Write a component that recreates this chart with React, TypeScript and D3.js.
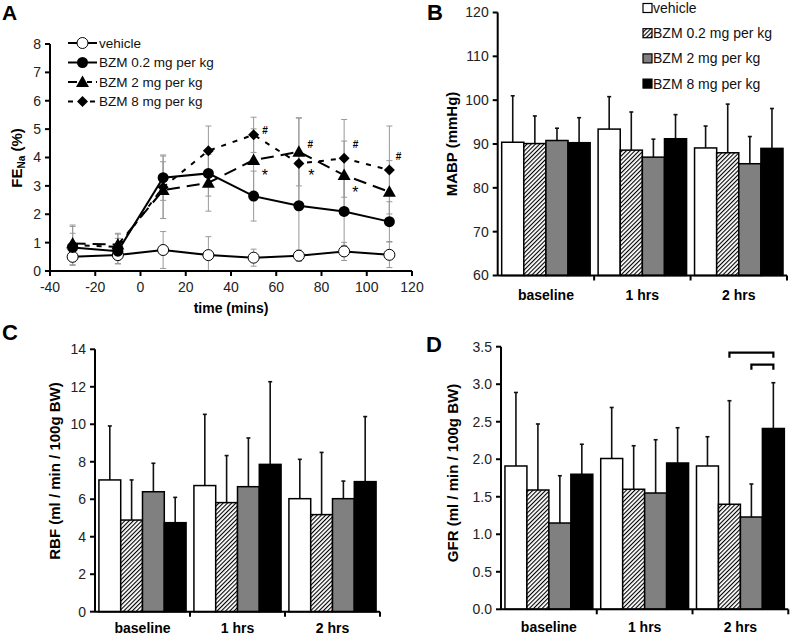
import React from "react";
import * as d3 from "d3";

// ---------- Panel A data ----------
const times = [-30, -10, 10, 30, 50, 70, 90, 110];
const vehicleFe = [0.5, 0.56, 0.74, 0.56, 0.47, 0.54, 0.69, 0.57];
const vehicleFeErr = [0.3, 0.3, 0.65, 0.65, 0.3, 0.2, 0.32, 0.45];
const bzm02Fe = [0.83, 0.7, 3.29, 3.44, 2.64, 2.3, 2.1, 1.74];
const bzm02FeErr = [0.5, 0.45, 0.8, 0.8, 0.88, 1.8, 1.2, 0.7];
const bzm2Fe = [0.97, 0.93, 2.85, 3.11, 3.91, 4.2, 3.38, 2.79];
const bzm2FeErr = [0.6, 0.4, 1.0, 1.0, 1.1, 1.2, 1.2, 1.1];
const bzm8Fe = [0.92, 0.85, 2.95, 4.24, 4.8, 3.79, 3.97, 3.56];
const bzm8FeErr = [0.7, 0.45, 1.1, 0.87, 0.62, 1.6, 1.37, 1.55];
const hashMarks = [
  { t: 55, v: 4.96 },
  { t: 75, v: 4.47 },
  { t: 95, v: 4.47 },
  { t: 114, v: 4.03 },
];
const starMarks = [
  { t: 55, v: 3.5 },
  { t: 75.5, v: 3.5 },
  { t: 95, v: 2.92 },
];
const xTicksA = [-40, -20, 0, 20, 40, 60, 80, 100, 120];
const yTicksA = [0, 1, 2, 3, 4, 5, 6, 7, 8];

// ---------- Bar panels data ----------
const groups = ["vehicle", "BZM 0.2 mg per kg", "BZM 2 mg per kg", "BZM 8 mg per kg"];
const periods = ["baseline", "1 hrs", "2 hrs"];

// values per period: [vehicle, 0.2, 2, 8]
const mabp = [
  [90.4, 90.1, 90.8, 90.3],
  [93.4, 88.6, 87.0, 91.2],
  [89.1, 88.0, 85.5, 89.0],
];
const mabpErrTop = [
  [101.0, 96.4, 93.6, 96.0],
  [100.8, 97.3, 91.1, 96.7],
  [94.1, 99.1, 91.7, 98.1],
];
const rbf = [
  [7.03, 4.89, 6.4, 4.75],
  [6.73, 5.82, 6.67, 7.86],
  [6.03, 5.18, 6.03, 6.94],
];
const rbfErrTop = [
  [9.91, 7.03, 7.92, 6.1],
  [10.53, 8.33, 9.27, 12.27],
  [8.13, 8.5, 6.97, 10.41],
];
const gfr = [
  [1.91, 1.59, 1.15, 1.8],
  [2.01, 1.6, 1.55, 1.95],
  [1.91, 1.4, 1.23, 2.41],
];
const gfrErrTop = [
  [2.89, 2.47, 1.78, 2.2],
  [2.69, 2.18, 2.26, 2.42],
  [2.3, 2.78, 1.67, 3.02],
];
// significance brackets in D: period index, from group, to group, level
const gfrBrackets = [
  { p: 2, a: 1, b: 3, v: 3.42 },
  { p: 2, a: 2, b: 3, v: 3.26 },
];
const mabpTicks = [60, 70, 80, 90, 100, 110, 120];
const rbfTicks = [0, 2, 4, 6, 8, 10, 12, 14];
const gfrTicks = [0, 0.5, 1.0, 1.5, 2.0, 2.5, 3.0, 3.5];

const FONT = "'Liberation Sans', Arial, sans-serif";
const fills = ["#ffffff", "url(#hatch)", "#808080", "#000000"];

function Marker({ kind, x, y }: { kind: string; x: number; y: number }) {
  if (kind === "open") return <circle cx={x} cy={y} r={5.5} fill="#fff" stroke="#000" strokeWidth={1} />;
  if (kind === "circle") return <circle cx={x} cy={y} r={5.5} fill="#000" />;
  if (kind === "tri") {
    const s = 6.5;
    return <path d={`M${x},${y - s} L${x + s},${y + s * 0.75} L${x - s},${y + s * 0.75} Z`} fill="#000" />;
  }
  const s = 5.5;
  return <path d={`M${x},${y - s} L${x + s},${y} L${x},${y + s} L${x - s},${y} Z`} fill="#000" />;
}

function PanelA() {
  const x = d3.scaleLinear().domain([-40, 120]).range([50, 412]);
  const y = d3.scaleLinear().domain([0, 8]).range([271, 44]);
  const series = [
    { name: "vehicle", vals: vehicleFe, err: vehicleFeErr, kind: "open", dash: "none" },
    { name: "BZM 0.2 mg per kg", vals: bzm02Fe, err: bzm02FeErr, kind: "circle", dash: "none" },
    { name: "BZM 2 mg per kg", vals: bzm2Fe, err: bzm2FeErr, kind: "tri", dash: "13,7" },
    { name: "BZM 8 mg per kg", vals: bzm8Fe, err: bzm8FeErr, kind: "dia", dash: "5,7" },
  ];
  const line = d3
    .line<number>()
    .x((_, i) => x(times[i]))
    .y((d) => y(d));
  return (
    <g fontFamily={FONT}>
      <text x={2} y={20} fontSize={21} fontWeight="bold">A</text>
      {series.map((s, si) =>
        s.vals.map((v, i) => {
          const lo = Math.max(0, v - s.err[i]);
          const hi = v + s.err[i];
          const cx = x(times[i]);
          return (
            <g key={`e${si}-${i}`} stroke="#999" strokeWidth={1}>
              <line x1={cx} x2={cx} y1={y(lo)} y2={y(hi)} />
              <line x1={cx - 3} x2={cx + 3} y1={y(hi)} y2={y(hi)} />
              {v - s.err[i] > 0 && <line x1={cx - 3} x2={cx + 3} y1={y(lo)} y2={y(lo)} />}
            </g>
          );
        })
      )}
      {series.map((s, si) => (
        <path key={`l${si}`} d={line(s.vals) || ""} fill="none" stroke="#000" strokeWidth={2} strokeDasharray={s.dash} />
      ))}
      {series.map((s, si) =>
        s.vals.map((v, i) => <Marker key={`m${si}-${i}`} kind={s.kind} x={x(times[i])} y={y(v)} />)
      )}
      {hashMarks.map((h, i) => (
        <text key={`h${i}`} x={x(h.t)} y={y(h.v)} fontSize={10} textAnchor="middle" dy="0.35em" fontWeight="bold">#</text>
      ))}
      {starMarks.map((h, i) => (
        <text key={`s${i}`} x={x(h.t)} y={y(h.v)} fontSize={16} textAnchor="middle" dy="0.6em">*</text>
      ))}
      <line x1={x(-40)} x2={x(-40)} y1={y(8)} y2={y(0)} stroke="#000" strokeWidth={2} />
      <line x1={x(-40)} x2={x(120)} y1={y(0)} y2={y(0)} stroke="#000" strokeWidth={2} />
      {yTicksA.map((t) => (
        <g key={`yt${t}`}>
          <line x1={x(-40) - 5} x2={x(-40)} y1={y(t)} y2={y(t)} stroke="#000" strokeWidth={2} />
          <text x={x(-40) - 9} y={y(t)} dy="0.35em" textAnchor="end" fontSize={14} fill="#222">{t}</text>
        </g>
      ))}
      {xTicksA.map((t) => (
        <g key={`xt${t}`}>
          <line x1={x(t)} x2={x(t)} y1={y(0)} y2={y(0) + 5} stroke="#000" strokeWidth={2} />
          <text x={x(t)} y={y(0) + 21} textAnchor="middle" fontSize={14} fill="#222">{t}</text>
        </g>
      ))}
      <text x={231} y={313} textAnchor="middle" fontSize={14} fontWeight="bold">time (mins)</text>
      <text transform={`translate(22,158) rotate(-90)`} textAnchor="middle" fontSize={15} fontWeight="bold">
        FE<tspan fontSize={10} dy={3}>Na</tspan><tspan dy={-3}> (%)</tspan>
      </text>
      {series.map((s, i) => {
        const ly = 43 + i * 19.5;
        return (
          <g key={`lg${i}`}>
            <line x1={68} x2={97} y1={ly} y2={ly} stroke="#000" strokeWidth={2} strokeDasharray={i === 2 ? "10,4" : i === 3 ? "5,6" : "none"} />
            {(i === 2 || i === 3) && <rect x={77} y={ly - 3} width={10} height={6} fill="#fff" />}
            <Marker kind={s.kind} x={82.5} y={ly} />
            <text x={99} y={ly} dy="0.35em" fontSize={13.5} fill="#111">{s.name}</text>
          </g>
        );
      })}
    </g>
  );
}

type BarProps = {
  label: string;
  labelX: number;
  labelY: number;
  x0: number;
  x1: number;
  yTop: number;
  yBot: number;
  domain: [number, number];
  ticks: number[];
  fmt: (v: number) => string;
  vals: number[][];
  errTop: number[][];
  title: string;
  titleX: number;
  titleY: number;
  catY: number;
  legend?: boolean;
  brackets?: { p: number; a: number; b: number; v: number }[];
};

function BarPanel(p: BarProps) {
  const x = d3.scaleBand<string>().domain(periods).range([p.x0, p.x1]);
  const inner = d3
    .scaleBand<number>()
    .domain([0, 1, 2, 3])
    .range([0, x.bandwidth()])
    .paddingOuter(0.18)
    .paddingInner(0);
  const y = d3.scaleLinear().domain(p.domain).range([p.yBot, p.yTop]);
  const bw = inner.bandwidth();
  return (
    <g fontFamily={FONT}>
      <text x={p.labelX} y={p.labelY} fontSize={22} fontWeight="bold">{p.label}</text>
      {p.vals.map((row, pi) =>
        row.map((v, gi) => {
          const bx = (x(periods[pi]) || 0) + (inner(gi) || 0);
          const cx = bx + bw / 2;
          const top = p.errTop[pi][gi];
          return (
            <g key={`b${pi}-${gi}`}>
              <line x1={cx} x2={cx} y1={y(v)} y2={y(top)} stroke="#111" strokeWidth={1.6} />
              <line x1={cx - 2} x2={cx + 2} y1={y(top)} y2={y(top)} stroke="#111" strokeWidth={1.6} />
              <rect x={bx} y={y(v)} width={bw} height={y(p.domain[0]) - y(v)} fill={fills[gi]} stroke="#000" strokeWidth={1.5} />
            </g>
          );
        })
      )}
      {(p.brackets || []).map((b, i) => {
        const base = x(periods[b.p]) || 0;
        const xa = base + (inner(b.a) || 0) + bw / 2;
        const xb = base + (inner(b.b) || 0) + bw / 2;
        const yy = y(b.v);
        return (
          <path key={`br${i}`} d={`M${xa},${yy + 5} L${xa},${yy} L${xb},${yy} L${xb},${yy + 5}`} fill="none" stroke="#000" strokeWidth={2.2} />
        );
      })}
      <line x1={p.x0} x2={p.x0} y1={p.yTop} y2={p.yBot} stroke="#000" strokeWidth={2} />
      <line x1={p.x0} x2={p.x1} y1={p.yBot} y2={p.yBot} stroke="#000" strokeWidth={2} />
      {p.ticks.map((t) => (
        <g key={`t${t}`}>
          <line x1={p.x0 - 5} x2={p.x0} y1={y(t)} y2={y(t)} stroke="#000" strokeWidth={2} />
          <text x={p.x0 - 9} y={y(t)} dy="0.35em" textAnchor="end" fontSize={14} fill="#222">{p.fmt(t)}</text>
        </g>
      ))}
      {periods.map((c) => (
        <g key={`c${c}`}>
          <line x1={(x(c) || 0) + x.bandwidth()} x2={(x(c) || 0) + x.bandwidth()} y1={p.yBot} y2={p.yBot + 5} stroke="#000" strokeWidth={2} />
          <text x={(x(c) || 0) + x.bandwidth() / 2} y={p.catY} textAnchor="middle" fontSize={14} fontWeight="bold">{c}</text>
        </g>
      ))}
      <text transform={`translate(${p.titleX},${p.titleY}) rotate(-90)`} textAnchor="middle" fontSize={15} fontWeight="bold">{p.title}</text>
      {p.legend &&
        groups.map((g, i) => {
          const ly = 8 + i * 25.2;
          return (
            <g key={`lg${g}`}>
              <rect x={643} y={ly - 4.5} width={9} height={9} fill={fills[i]} stroke="#000" strokeWidth={1.2} />
              <text x={653} y={ly} dy="0.35em" fontSize={14} fill="#111">{g}</text>
            </g>
          );
        })}
    </g>
  );
}

export default function App() {
  return (
    <div style={{ position: "absolute", left: 0, top: 0 }}>
      <svg width={790} height={635} style={{ display: "block", background: "#fff" }}>
        <defs>
          <pattern id="hatch" patternUnits="userSpaceOnUse" width={3} height={10} patternTransform="rotate(45)">
            <rect width={3} height={10} fill="#fff" />
            <rect x={0} y={0} width={1.1} height={10} fill="#000" />
          </pattern>
        </defs>
        <PanelA />
        <BarPanel
          label="B" labelX={427} labelY={20}
          x0={497.7} x1={787} yTop={12.5} yBot={275.5}
          domain={[60, 120]} ticks={mabpTicks} fmt={(v) => String(v)}
          vals={mabp} errTop={mabpErrTop}
          title="MABP (mmHg)" titleX={457} titleY={144} catY={300} legend
        />
        <BarPanel
          label="C" labelX={2} labelY={340}
          x0={95} x1={380} yTop={349.3} yBot={611.7}
          domain={[0, 14]} ticks={rbfTicks} fmt={(v) => String(v)}
          vals={rbf} errTop={rbfErrTop}
          title="RBF (ml / min / 100g BW)" titleX={60} titleY={471} catY={633}
        />
        <BarPanel
          label="D" labelX={426} labelY={352}
          x0={501} x1={788.3} yTop={346.7} yBot={609.3}
          domain={[0, 3.5]} ticks={gfrTicks} fmt={(v) => v.toFixed(1)}
          vals={gfr} errTop={gfrErrTop}
          title="GFR (ml / min / 100g BW)" titleX={458} titleY={473} catY={632}
          brackets={gfrBrackets}
        />
      </svg>
    </div>
  );
}
